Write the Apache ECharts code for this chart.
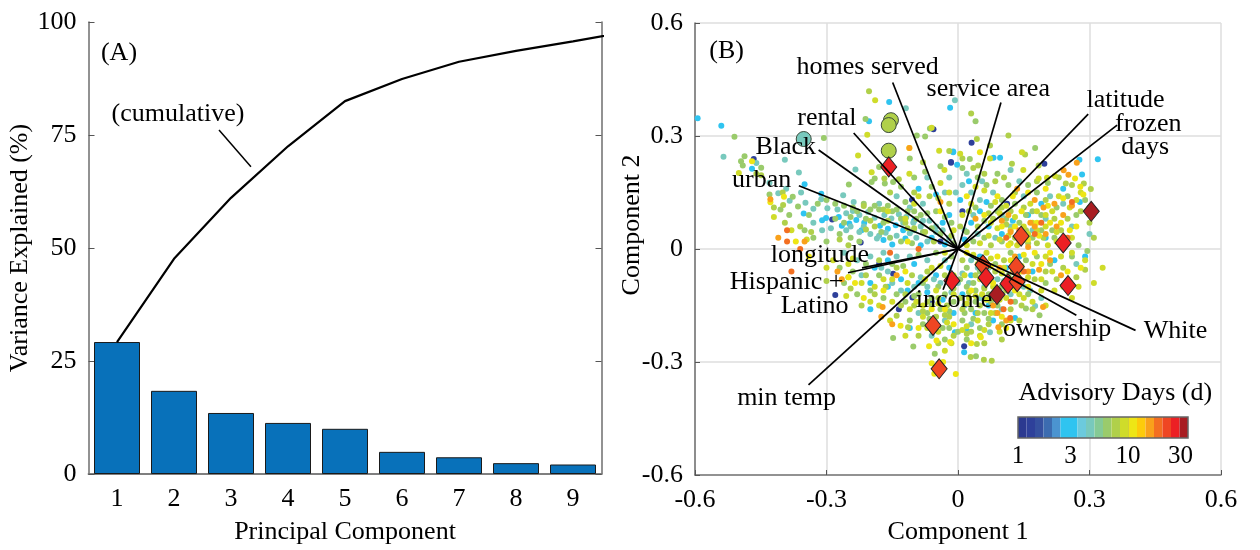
<!DOCTYPE html>
<html><head><meta charset="utf-8"><style>html,body{margin:0;padding:0;background:#fff}#c{width:1260px;height:550px}</style>
<script src="https://cdn.jsdelivr.net/npm/echarts@6/dist/echarts.min.js"></script></head><body><div id="c"></div><script>
const pcCategories=['1','2','3','4','5','6','7','8','9'];
const pcVariance=[29.2,18.4,13.5,11.3,10.0,4.9,3.7,2.4,2.1];
const pcCumulative=[[1,29.2],[2,47.6],[3,61.1],[4,72.5],[5,82.5],[6,87.4],[7,91.2],[8,93.6],[9,95.7],[10,98.0]];
const cumulativeLeader=[[2.79,76.1],[3.35,68.0]];
const panelALabels=[['(A)',1.035,93.0],['(cumulative)',2.07,79.6]];
const palette=['#2b3990','#2e409a','#35509f','#3c6cb0','#4b94d0','#2fc4f0','#2fc4f0','#6ccadd','#78c9bd','#85ca95','#9acb6b','#b0d04a','#cfdc2a','#eee615','#fdcb0b','#f9a11b','#f36f21','#ef4623','#ec2024','#a81d22'];
const binIdx=[0,1,2,3,4,5,6,7,8,9,10,11,12,13,14,15,16,17,18,19];
const tickDays=[1,3,10,30];
const dotsNavy=[[-.466,.239],[-.016,.229],[.031,.282],[.197,.226],[-.056,.318],[-.016,.231],[-.287,.078],[-.222,.017],[.112,.12],[-.148,-.066],[-.28,-.122],[-.104,-.129],[.014,-.258],[-.105,.131],[.01,.1],[-.04,.02],[-.18,-.04],[-.135,-.16],[-.06,-.14]];
const dotsCyan=[[-.594,.347],[-.54,.327],[-.157,.39],[-.203,.339],[-.47,.213],[-.35,.172],[-.312,.147],[-.018,.375],[-.011,.259],[.081,.242],[.096,.242],[.277,.237],[-.002,.224],[.283,.198],[.319,.238],[-.011,.257],[-.352,.094],[-.301,.082],[-.272,.085],[-.265,.062],[-.31,.076],[-.248,.068],[-.232,.077],[-.214,.07],[-.178,.062],[-.16,.054],[-.142,.063],[-.17,.024],[-.125,.05],[-.12,.028],[-.15,.012],[-.085,.01],[-.06,.03],[-.03,.012],[-.02,.09],[-.05,.145],[-.09,.16],[.005,.13],[.03,.07],[.05,.1],[.07,.06],[.1,.04],[.16,.09],[.19,.12],[.24,.16],[.29,-.02],[.278,.125],[.14,-.02],[.11,-.05],[.05,-.02],[.03,-.07],[-.02,-.05],[-.05,-.07],[-.1,-.04],[-.09,-.09],[-.13,-.08],[-.16,-.1],[-.19,-.05],[-.2,-.09],[-.007,-.221],[.02,-.217],[.014,-.274],[.13,-.183],[.07,-.15],[.04,-.17],[-.2,-.16],[.01,-.12],[.08,-.19],[-.11,-.21],[-.01,-.17],[.17,-.06],[.2,.03],[.22,-.03],[-.22,.05],[-.1,.075],[-.035,.07],[.015,.025],[.025,.18],[.065,.125],[.125,.075],[.06,-.085],[.095,-.125],[-.07,-.115],[-.035,-.135],[-.115,-.11],[-.16,-.03]];
const dotsTeal=[[-.119,.374],[-.535,.245],[-.46,.228],[-.395,.237],[-.363,.203],[-.392,.16],[-.348,.123],[-.312,.132],[-.262,.143],[-.238,.125],[-.234,.211],[-.007,.395],[-.43,.176],[-.41,.148],[-.384,.128],[-.358,.15],[-.33,.107],[-.298,.108],[-.275,.105],[-.255,.095],[-.24,.101],[-.225,.09],[-.205,.098],[-.19,.083],[-.168,.09],[-.152,.081],[-.135,.092],[-.118,.085],[-.102,.07],[-.085,.06],[-.065,.075],[-.05,.06],[-.035,.05],[-.255,.05],[-.225,.045],[-.2,.04],[-.185,.028],[-.165,.043],[-.14,.035],[-.11,.042],[-.095,.03],[-.07,.02],[-.05,.045],[-.29,.055],[-.31,.05],[-.33,.07],[-.18,.12],[-.14,.14],[-.11,.11],[-.08,.12],[-.03,.15],[-.07,.19],[-.02,.19],[.01,.17],[.03,.15],[.02,.2],[.05,.13],[.08,.15],[.1,.09],[.12,.06],[.15,.14],[.17,.05],[.2,.08],[.26,.06],[.3,.04],[.305,.095],[.27,-.04],[.25,-.09],[.19,-.13],[.176,-.151],[.15,-.1],[.12,-.12],[.09,-.08],[.06,-.1],[.07,-.05],[.03,-.03],[0,-.09],[-.03,-.03],[-.07,-.03],[-.11,-.02],[-.14,-.02],[-.17,-.01],[-.2,-.02],[-.23,-.03],[-.26,-.01],[-.13,-.11],[-.1,-.1],[-.07,-.1],[-.04,-.09],[-.16,-.06],[-.22,-.07],[.073,-.221],[.03,-.2],[.1,-.16],[.05,-.13],[-.03,-.19],[-.09,-.17],[.015,-.15],[-.06,-.23],[.085,.03],[.015,.05],[.24,.12],[.14,.18],[.12,.21],[.21,.14],[-.245,.06],[-.215,.06],[-.18,.035],[-.125,.07],[-.08,.075],[-.1,.05],[-.02,.03],[.045,.04],[.035,.09],[-.005,.15],[.055,.18],[-.055,-.08],[-.085,-.075],[-.15,-.09],[-.175,-.05],[.025,-.09],[.045,-.05],[.105,-.085],[.135,-.1],[.165,-.11],[.01,-.065],[-.015,-.115]];
const dotsGreen=[[-.211,.345],[-.51,.298],[-.306,.295],[-.487,.246],[-.495,.233],[-.491,.222],[-.449,.216],[-.377,.139],[-.18,.218],[-.19,.187],[-.197,.178],[-.249,.171],[-.148,.178],[-.167,.174],[-.094,.301],[-.075,.299],[-.064,.32],[.04,.339],[.027,.239],[.176,.268],[-.148,-.236],[-.102,-.259],[-.053,-.278],[.041,-.285],[.155,-.158],[.186,-.176],[-.43,.145],[-.405,.105],[-.385,.09],[-.365,.113],[-.34,.09],[-.32,.12],[-.3,.13],[-.28,.12],[-.26,.115],[-.24,.11],[-.245,.085],[-.26,.07],[-.28,.08],[-.215,.12],[-.2,.105],[-.18,.105],[-.16,.115],[-.14,.105],[-.12,.125],[-.1,.1],[-.085,.09],[-.07,.095],[-.05,.1],[-.03,.085],[-.015,.07],[-.175,.045],[-.155,.03],[-.13,.02],[-.105,.015],[-.08,.045],[-.225,.02],[-.245,.03],[-.27,.04],[-.3,.02],[-.33,.03],[-.35,.05],[-.13,.165],[-.1,.19],[-.075,.205],[-.11,.24],[-.04,.22],[-.06,.165],[.01,.215],[.045,.19],[.065,.17],[.075,.115],[.1,.13],[.115,.17],[.09,.2],[.13,.12],[.16,.17],[.18,.15],[.205,.175],[.225,.11],[.25,.14],[.27,.09],[.29,.13],[.19,.09],[.17,.03],[.14,.07],[.1,.02],[.06,.03],[.035,.02],[.215,.05],[.24,.01],[.275,.01],[.295,-.005],[.26,-.02],[.21,-.04],[.18,-.02],[.155,-.03],[.12,-.01],[.085,-.04],[.06,-.07],[.02,-.05],[-.015,-.02],[-.05,-.01],[-.09,-.015],[-.125,-.045],[-.15,-.04],[-.18,-.07],[-.21,-.04],[-.24,-.06],[-.27,-.05],[-.26,-.09],[-.23,-.12],[-.2,-.11],[-.17,-.13],[-.14,-.12],[-.12,-.14],[-.09,-.12],[-.06,-.13],[-.03,-.12],[.02,-.1],[.04,-.11],[.07,-.12],[.1,-.1],[.13,-.14],[.16,-.12],[.2,-.09],[-.07,-.17],[-.04,-.16],[-.01,-.14],[.03,-.16],[.06,-.17],[.09,-.15],[-.11,-.19],[-.08,-.2],[-.05,-.2],[-.02,-.21],[.01,-.19],[.05,-.21],[.02,-.24],[-.03,-.24],[.1,-.2],[-.23,.1],[-.21,.08],[-.19,.115],[-.17,.07],[-.15,.1],[-.13,.08],[-.115,.1],[-.095,.08],[-.06,.055],[-.04,.04],[-.01,.015],[.02,.045],[.04,.11],[.06,.075],[.09,.1],[.11,.08],[.155,.09],[.17,.1],[.19,.05],[.22,.03],[.05,-.06],[.075,-.08],[.115,-.07],[.14,-.085],[.035,-.09],[.005,-.08],[-.02,-.085],[-.045,-.1],[-.08,-.09],[-.1,-.125],[-.06,-.15],[-.02,-.165],[.015,-.17],[.04,-.14],[.075,-.14],[.035,-.185],[.07,-.185],[-.035,-.21],[0,-.22],[-.065,-.185]];
const dotsLime=[[-.203,.419],[-.46,.2],[-.449,.196],[-.399,.117],[-.215,.114],[-.168,.187],[.03,.36],[.043,.292],[.115,.301],[.073,.275],[.153,.251],[.046,.222],[.123,.226],[.184,.222],[.287,.174],[.303,.159],[.246,.174],[.029,-.287],[.059,-.294],[.077,-.297],[.043,-.252],[-.14,-.177],[-.114,-.208],[-.42,.11],[-.395,.07],[-.36,.06],[-.335,.045],[-.27,.025],[-.25,.01],[-.21,.052],[-.19,.06],[-.16,.075],[-.12,.07],[-.1,.055],[-.075,.045],[-.055,.02],[-.015,.035],[.005,.06],[.025,.1],[-.02,.12],[-.045,.135],[-.065,.14],[-.1,.15],[-.135,.185],[-.155,.15],[-.08,.23],[-.02,.26],[.01,.24],[.035,.215],[.06,.2],[.085,.18],[.105,.19],[.13,.15],[.15,.11],[.18,.18],[.2,.13],[.23,.19],[.26,.17],[.28,.1],[.3,.07],[.31,.03],[.25,.08],[.22,.08],[.195,.03],[.16,.015],[.13,.03],[.11,.065],[.075,.01],[.045,.06],[.29,-.055],[.27,-.075],[.24,-.05],[.225,-.08],[.2,-.06],[.175,-.08],[.14,-.06],[.105,-.03],[.04,-.07],[.01,-.03],[-.03,-.07],[-.07,-.06],[-.105,-.07],[-.14,-.05],[-.18,-.03],[-.21,-.07],[-.25,-.075],[-.3,-.085],[-.245,-.105],[-.22,-.15],[-.19,-.12],[-.165,-.1],[-.13,-.15],[-.1,-.15],[-.07,-.14],[-.025,-.15],[.005,-.13],[.05,-.15],[.08,-.13],[.12,-.16],[.14,-.19],[.17,-.16],[-.09,-.23],[-.05,-.18],[-.01,-.23],[.03,-.22],[.07,-.2],[.1,-.24],[.06,-.25],[-.02,-.18],[-.12,-.12],[-.4,.15],[.08,.08],[.12,.1],[-.2,.075],[-.17,.105],[-.115,.055],[.07,.095],[.1,.11],[.14,.035],[.18,.015],[.155,.05],[.235,.05],[.085,-.06],[.11,-.11],[.145,-.15],[.06,-.105],[.025,-.115],[-.01,-.105],[-.045,-.13],[.01,-.16],[.045,-.17],[.085,-.17],[-.03,-.175],[-.08,-.165],[.02,-.225],[-.045,-.25]];
const dotsYellow=[[-.189,.395],[-.207,.303],[-.5,.202],[-.228,.248],[-.197,.204],[-.111,.2],[-.043,.261],[.146,.257],[.005,.253],[.073,.24],[.149,.21],[.221,.194],[.203,.189],[.184,.187],[-.031,.21],[-.06,.322],[-.04,.175],[-.02,.15],[-.09,.14],[-.12,.08],[-.16,.1],[-.1,.12],[-.42,.085],[-.38,.05],[-.345,.025],[-.3,-.05],[-.285,-.03],[-.25,-.04],[-.22,-.09],[-.255,-.125],[-.19,-.1],[-.15,-.08],[-.115,-.09],[-.06,-.05],[-.03,-.01],[-.01,.05],[.01,.09],[.03,.12],[.04,.165],[.06,.155],[.085,.125],[.095,.095],[.11,.115],[.13,.085],[.15,.06],[.165,.12],[.18,.1],[.2,.06],[.215,.1],[.23,.14],[.255,.11],[.27,.13],[.28,.15],[.3,.11],[.245,.03],[.225,.02],[.205,.01],[.18,.05],[.16,.04],[.135,.01],[.115,.035],[.09,.055],[.07,.035],[.05,.015],[.02,.01],[.26,-.01],[.235,-.02],[.2,-.02],[.17,-.04],[.145,-.045],[.125,-.08],[.1,-.065],[.075,-.025],[.045,-.04],[.015,-.07],[-.01,-.07],[-.04,-.045],[-.075,-.08],[.29,-.03],[.275,-.1],[.26,-.13],[.22,-.11],[.2,-.15],[.17,-.14],[.15,-.13],[.12,-.19],[.09,-.11],[.055,-.12],[.025,-.13],[-.015,-.1],[-.05,-.11],[-.08,-.15],[-.11,-.16],[-.15,-.14],[-.18,-.15],[-.12,-.23],[-.08,-.18],[-.045,-.22],[-.015,-.25],[.02,-.205],[.045,-.19],[.075,-.17],[.095,-.22],[.11,-.13],[.05,-.23],[-.03,-.27],[.01,-.215],[-.155,-.19],[-.2,-.14],[.14,-.12],[.19,-.11],[.24,-.1],[.31,-.09],[.33,-.05],[.075,.07],[.12,.05],[.095,.025],[.15,.025],[.17,.07],[.2,.09],[.225,.045],[.26,.03],[.12,.015],[.065,-.01],[.035,-.015],[.105,-.05],[.13,-.045],[.16,-.075],[.19,-.08],[.215,-.06],[.08,-.1],[.05,-.08],[.02,-.145],[-.01,-.12],[.04,-.125],[.065,-.135],[.095,-.135],[-.045,-.145],[-.025,-.195],[.06,-.215],[-.07,-.21],[-.095,-.14],[-.17,-.08],[-.24,-.025]];
const dotsAmber=[[-.47,.233],[-.428,.124],[-.397,.139],[.05,.257],[.267,.187],[.279,.165],[.286,.145],[-.111,.268],[-.066,-.258],[-.049,-.243],[-.06,-.303],[-.034,-.3],[-.054,-.331],[-.005,-.332],[.052,-.234],[-.018,-.247],[-.131,-.204],[-.25,-.075],[-.235,-.09],[-.215,-.13],[-.34,-.02],[-.37,.02],[-.115,.02],[-.04,.1],[.02,.14],[.06,.09],[.09,.14],[.125,.14],[.16,.15],[.2,.16],[.235,.07],[.255,.05],[.18,.07],[.145,.1],[.1,.06],[.175,-.01],[.15,-.015],[.12,-.03],[.09,-.02],[.21,-.01],[.25,-.06],[.28,-.05],[.16,-.1],[.13,-.11],[.08,-.09],[.1,-.18],[.11,-.21],[.03,-.25],[-.09,-.21],[-.17,-.11],[-.12,-.06],[.06,-.06],[.02,-.01],[-.01,-.2],[-.06,-.16],[.205,.115],[.24,.135],[.27,.06],[.13,.06],[.16,.025],[.185,.035],[.21,.07],[.115,.01],[.145,-.06],[.19,-.04],[.105,-.09],[.075,-.045],[.03,-.11],[-.03,-.16]];
const dotsOrange=[[-.111,.268],[.241,.209],[.252,.197],[.271,.229],[-.428,.132],[-.35,.02],[-.41,.03],[-.172,-.154],[.092,-.208],[.194,-.154],[-.265,-.08],[-.275,-.06],[-.175,-.18],[-.15,-.2],[.135,.16],[.165,.07],[.195,.11],[.225,.06],[.2,.04],[.16,.005],[.12,.045],[.1,.075],[.24,.09],[.21,-.03],[.185,-.055],[.13,-.02],[.16,-.06],[.095,-.05],[.26,.115],[.235,-.07],[.11,-.19],[.08,-.15],[-.14,-.07],[.04,.08],[.175,.13],[-.04,.125],[.05,-.03],[.22,.12],[.14,.02],[.175,.06],[.115,.09],[.125,-.055],[.09,-.17]];
const dotsRed=[[-.39,.05],[-.39,.02],[-.36,.0],[-.38,-.06],[.104,-.16],[.119,-.183],[-.09,.0],[.14,.05],[.175,.04],[.15,-.06],[.25,.03],[.26,.125],[.19,.07],[.12,-.14],[-.155,-.01],[.11,.03]];
const dotClassDays=[1.3,3.2,4.4,6.2,7.3,10,12,16,20];
const advisoryMarks=[[-.158,.218,28],[.304,.1,33],[.144,.034,21],[.24,.016,26],[-.057,-.203,21],[-.043,-.318,23],[-.014,-.084,26],[.057,-.042,24],[.064,-.076,26],[.133,-.047,23],[.114,-.092,26],[.135,-.087,23],[.089,-.121,33],[.251,-.097,26]];
const largeCircles=[[-.352,.292,4.4],[-.153,.342,7.3],[-.158,.329,7.3],[-.158,.261,7.3]];
const loadings=[['homes',-.149,.442],['rental',-.238,.308],['Black',-.318,.263],['urban',-.363,.168],['service',.098,.389],['latitude',.297,.358],['frozen',.363,.329],['longitude',-.219,-.05],['Hispanic',-.251,-.063],['min temp',-.341,-.361],['income',-.034,-.108],['ownership',.27,-.176],['White',.405,-.216]];
const panelBLabels=[['(B)',-.528,.524],['homes served',-.206,.482],['rental',-.299,.347],['Black',-.393,.271],['urban',-.448,.184],['service area',.069,.424],['latitude',.382,.395],['frozen',.434,.332],['days',.427,.271],['longitude',-.315,-.016],['Hispanic +',-.391,-.087],['Latino',-.327,-.153],['income',-.009,-.137],['ownership',.226,-.213],['White',.496,-.218],['min temp',-.391,-.395],['Advisory Days (d)',.359,-.384]];

const FONT='"Liberation Serif","Times New Roman",serif',AX='#777',TXT=26,LBL=26;
const colorOf=d=>palette[Math.min(19,Math.floor(Math.log10(d)*110/8.5))];
const dotGroups=[dotsNavy,dotsCyan,dotsTeal,dotsGreen,dotsLime,dotsYellow,dotsAmber,dotsOrange,dotsRed];
const tickFmt=v=>Math.abs(v)<1e-6?'0':v.toFixed(1);
const labelSeries=(name,rows,xa,ya)=>({type:'scatter',name,xAxisIndex:xa,yAxisIndex:ya,symbolSize:0,silent:true,z:20,itemStyle:{opacity:1},data:rows.map(r=>({value:[r[1],r[2]],name:r[0]})),
 label:{show:true,position:'inside',align:'center',verticalAlign:'middle',formatter:p=>p.name,color:'#000',opacity:1,fontFamily:FONT,fontSize:LBL},labelLayout:{hideOverlap:false}});
const series=[
 {type:'bar',xAxisIndex:0,yAxisIndex:0,data:pcVariance,barWidth:46,itemStyle:{color:'#0871ba',borderColor:'#1a1a1a',borderWidth:1}},
 {type:'line',xAxisIndex:2,yAxisIndex:0,data:pcCumulative,symbol:'none',clip:true,lineStyle:{color:'#000',width:2.2},z:5},
 {type:'line',xAxisIndex:2,yAxisIndex:0,data:cumulativeLeader,symbol:'none',lineStyle:{color:'#000',width:1.5},z:5},
 labelSeries('panelA',panelALabels,2,0)
];
dotGroups.forEach((g,i)=>series.push({type:'scatter',xAxisIndex:3,yAxisIndex:2,data:g,symbolSize:6,silent:true,itemStyle:{color:colorOf(dotClassDays[i]),opacity:1},z:3}));
series.push({type:'scatter',xAxisIndex:3,yAxisIndex:2,data:largeCircles,symbolSize:15,itemStyle:{color:p=>colorOf(p.value[2]),borderColor:'#3a4a3a',borderWidth:1,opacity:1},z:4});
series.push({type:'scatter',xAxisIndex:3,yAxisIndex:2,data:advisoryMarks,symbol:'diamond',symbolSize:[16,20],itemStyle:{color:p=>colorOf(p.value[2]),borderColor:'#222',borderWidth:1,opacity:1},z:5});
loadings.forEach(l=>series.push({type:'line',xAxisIndex:3,yAxisIndex:2,data:[[0,0],[l[1],l[2]]],symbol:'none',lineStyle:{color:'#000',width:1.7},z:6}));
series.push(labelSeries('panelB',panelBLabels,3,2));
series.push({type:'bar',xAxisIndex:5,yAxisIndex:4,data:binIdx.map(i=>({value:1,itemStyle:{color:palette[i]}})),barCategoryGap:0,barWidth:'100%',silent:true});
const axisTxt={color:'#000',fontFamily:FONT,fontSize:TXT};
const nameTxt={color:'#000',fontFamily:FONT,fontSize:LBL};
const opt={animation:false,backgroundColor:'#fff',
 grid:[{left:88.5,top:22,width:513,height:456},{left:695,top:23,width:526,height:457},{left:1018,top:417,width:170,height:21,show:true,borderColor:'#666',borderWidth:1.5,backgroundColor:'transparent',z:8}],
 graphic:[{type:'text',x:632,y:225,rotation:Math.PI/2,z:30,style:{text:'Component 2',fill:'#000',font:LBL+'px '+FONT,align:'center',verticalAlign:'middle'}}],
 xAxis:[
  {gridIndex:0,type:'category',data:pcCategories,position:'bottom',name:'Principal Component',nameLocation:'middle',nameGap:45,nameTextStyle:nameTxt,axisLine:{lineStyle:{color:AX,width:1.6}},axisTick:{alignWithLabel:true,inside:true,length:6,lineStyle:{color:'#555'}},axisLabel:{...axisTxt,margin:12},splitLine:{show:false}},
  {gridIndex:0,type:'category',data:pcCategories,position:'top',axisLine:{lineStyle:{color:AX,width:1.6}},axisTick:{alignWithLabel:true,inside:true,length:6,lineStyle:{color:'#555'}},axisLabel:{show:false}},
  {gridIndex:0,type:'value',min:.5,max:9.5,show:false},
  {gridIndex:1,type:'value',min:-.6,max:.6,interval:.3,position:'bottom',name:'Component 1',nameLocation:'middle',nameGap:44,nameTextStyle:nameTxt,axisLine:{onZero:false,lineStyle:{color:AX,width:1.5}},axisTick:{inside:true,length:5,lineStyle:{color:'#555'}},axisLabel:{...axisTxt,margin:12,formatter:tickFmt},splitLine:{show:true,lineStyle:{color:'#dedede',width:1.5}}},
  {gridIndex:2,type:'value',min:0,max:1.545,position:'bottom',axisLine:{show:false},axisTick:{show:true,inside:true,length:21,customValues:tickDays.map(Math.log10),lineStyle:{color:'rgba(60,60,60,.55)'}},axisLabel:{color:'#000',fontFamily:FONT,fontSize:25,margin:6,customValues:tickDays.map(Math.log10),formatter:v=>String(Math.round(Math.pow(10,v)))},splitLine:{show:false}},
  {gridIndex:2,type:'category',data:binIdx,show:false}
 ],
 yAxis:[
  {gridIndex:0,type:'value',min:0,max:100,interval:25,position:'left',name:'Variance Explained (%)',nameLocation:'middle',nameGap:47,nameTextStyle:nameTxt,axisLine:{show:true,lineStyle:{color:AX,width:1.6}},axisTick:{show:true,inside:true,length:6,lineStyle:{color:'#555'}},axisLabel:{...axisTxt,margin:12},splitLine:{show:false}},
  {gridIndex:0,type:'value',min:0,max:100,interval:25,position:'right',axisLine:{show:true,lineStyle:{color:AX,width:1.6}},axisTick:{show:true,inside:true,length:6,lineStyle:{color:'#555'}},axisLabel:{show:false},splitLine:{show:false}},
  {gridIndex:1,type:'value',min:-.6,max:.6,interval:.3,position:'left',axisLine:{show:true,onZero:false,lineStyle:{color:AX,width:1.6}},axisTick:{show:true,inside:true,length:5,lineStyle:{color:'#555'}},axisLabel:{...axisTxt,margin:12,formatter:tickFmt},splitLine:{show:true,lineStyle:{color:'#dedede',width:1.5}}},
  {gridIndex:2,type:'value',min:0,max:1,show:false},
  {gridIndex:2,type:'value',min:0,max:1,show:false}
 ],
 series};
echarts.init(document.getElementById('c'),null,{renderer:'canvas'}).setOption(opt);
</script></body></html>
